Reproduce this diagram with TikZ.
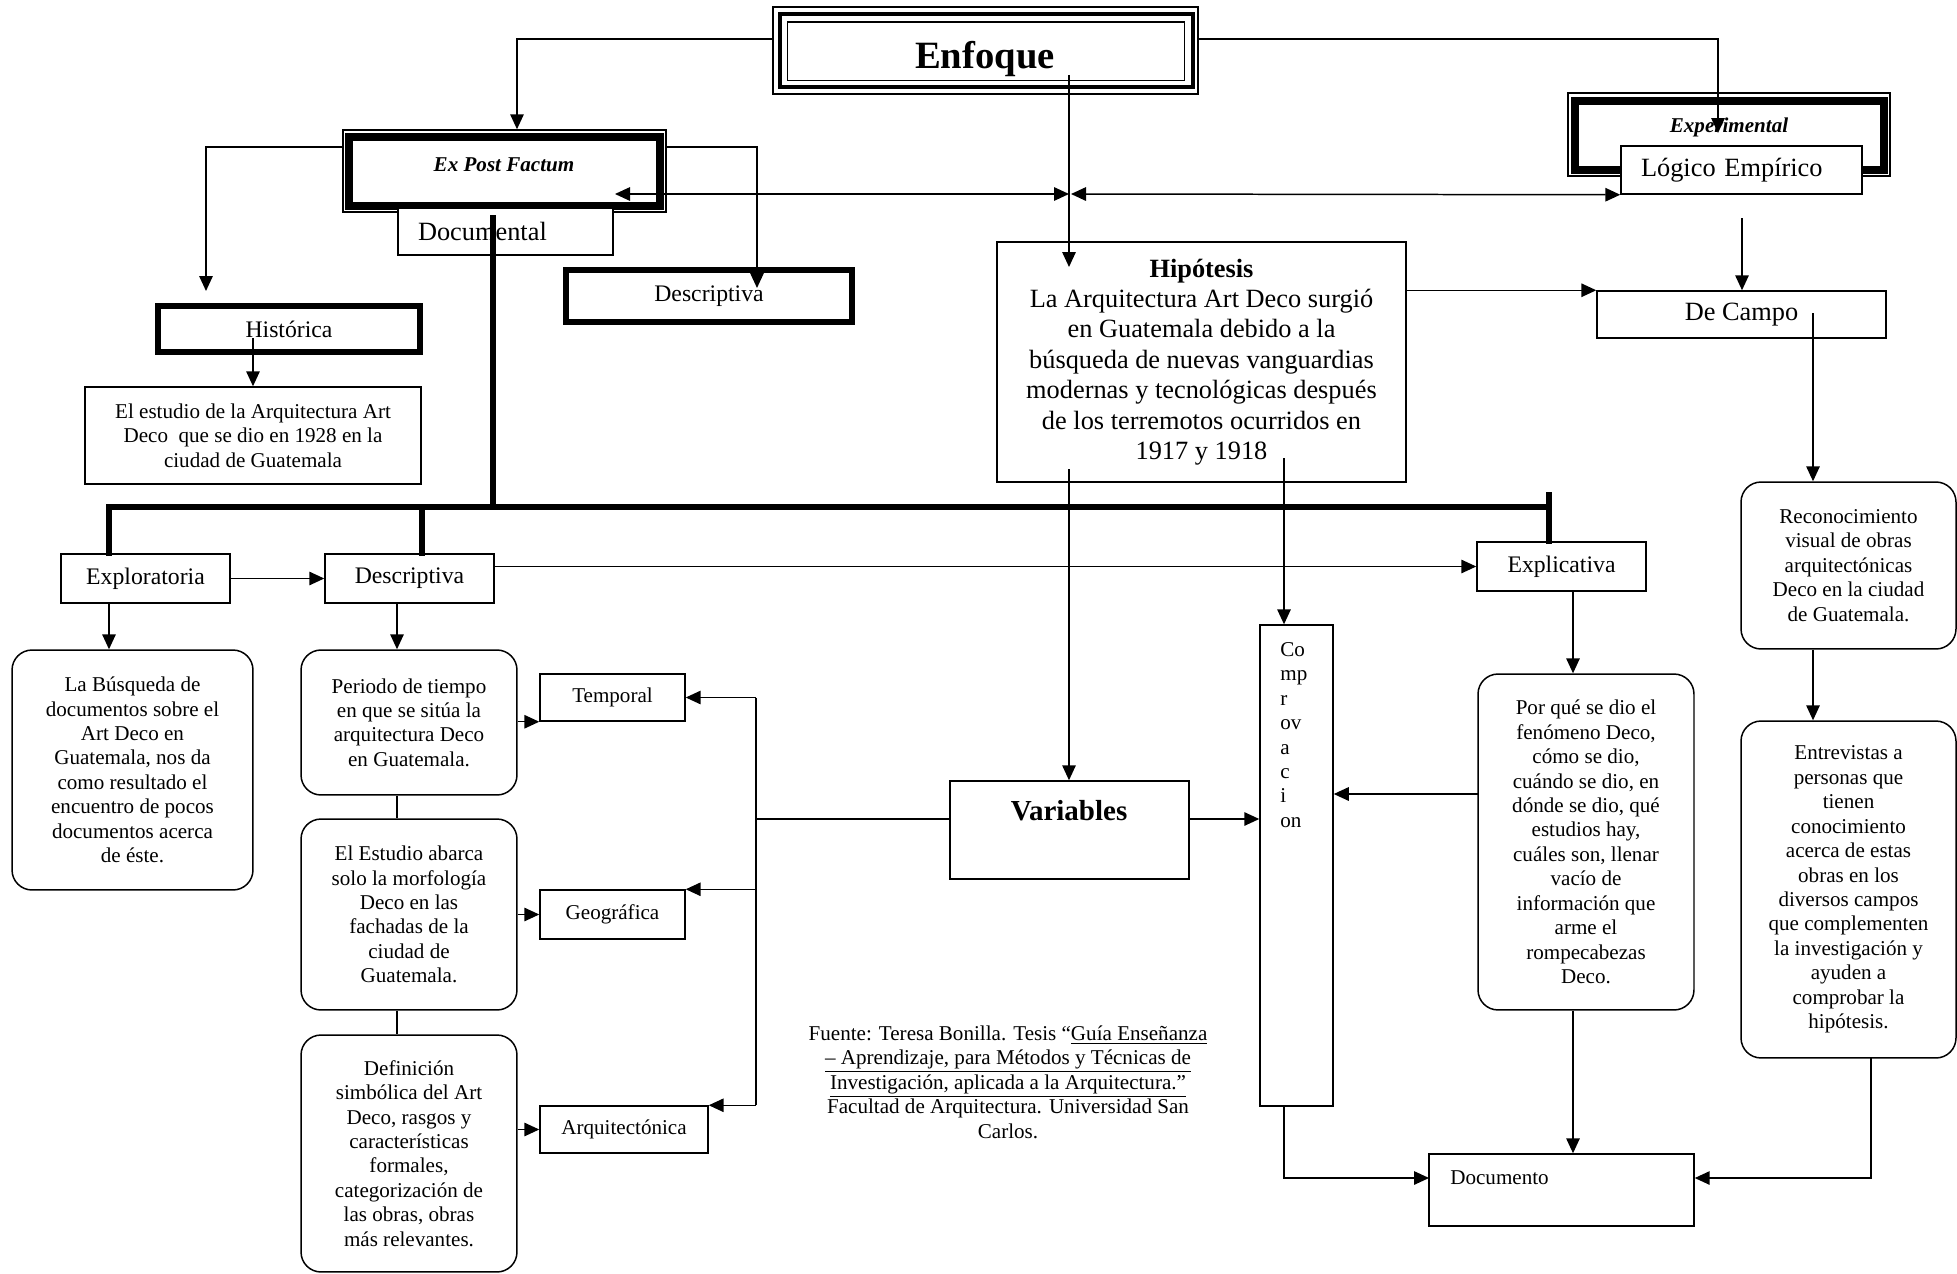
\documentclass[tikz,border=0pt]{standalone}
\usepackage{fontspec}
\setmainfont{Liberation Serif}
\usetikzlibrary{arrows.meta}

\newcommand{\smalltxt}{\fontsize{12}{13.9}\selectfont}
\newcommand{\midtxt}{\fontsize{13.5}{15.5}\selectfont}
\newcommand{\bigtxt}{\fontsize{15}{17.3}\selectfont}

\tikzstyle{box} = [rectangle,
inner sep=0pt,
align=center,
draw=black, line width=0.85pt,
fill=white, font=\smalltxt]
\tikzstyle{roundbox} = [box, rounded corners=0.4cm]
\tikzstyle{heavybox} = [box, line width=3pt]
\tikzstyle{arrow} = [line width=0.85pt,-{Triangle[length=0.3cm,width=0.27cm]}]
\tikzstyle{twoway} = [line width=0.85pt,{Triangle[length=0.3cm,width=0.27cm]}-{Triangle[length=0.3cm,width=0.27cm]}]
\tikzstyle{link} = [line width=0.85pt]
\tikzstyle{trunk} = [line width=3.2pt, line cap=rect]

\begin{document}
\begin{tikzpicture}[x=0.02cm, y=-0.02cm]
    \useasboundingbox[fill=white] (0,0) rectangle (1957,1274);

    % cabecera
    \node (enfoque) [box, minimum width=8.5cm, minimum height=1.74cm] at (985.5,50.5) {};
    \draw [line width=2.5pt] ([xshift=0.15cm,yshift=-0.16cm]enfoque.north west) rectangle ([xshift=-0.12cm,yshift=0.16cm]enfoque.south east);
    \draw [link] ([xshift=0.3cm,yshift=-0.31cm]enfoque.north west) rectangle ([xshift=-0.28cm,yshift=0.28cm]enfoque.south east);
    \node (enfoquetxt) [anchor=base, font=\bfseries\fontsize{22}{24}\selectfont] at (985,69) {Enfoque};

    \node (expost) [box, minimum width=6.46cm, minimum height=1.64cm] at (504.5,171) {};
    \draw [line width=4.5pt] ([xshift=0.14cm,yshift=-0.16cm]expost.north west) rectangle ([xshift=-0.14cm,yshift=0.14cm]expost.south east);
    \node (expostxt) [font=\bfseries\itshape\smalltxt] at (504,165) {Ex Post Factum};
    \node (documental) [box, font=\bigtxt, minimum width=4.3cm, minimum height=0.94cm, text width=3.5cm, align=left, inner xsep=0.4cm] at (505.5,231.5) {Documental};

    \node (experimental) [box, minimum width=6.44cm, minimum height=1.66cm] at (1729,134.5) {};
    \draw [line width=4.5pt] ([xshift=0.16cm,yshift=-0.18cm]experimental.north west) rectangle ([xshift=-0.14cm,yshift=0.14cm]experimental.south east);
    \node (experimentaltxt) [font=\bfseries\itshape\smalltxt] at (1729,127) {Experimental};
    \node (logico) [box, font=\bigtxt, minimum width=4.82cm, minimum height=0.96cm, text width=4.02cm, align=left, inner xsep=0.4cm] at (1741.5,170) {Lógico Empírico};

    \node (descriptivaA) [heavybox, font=\midtxt, minimum width=5.72cm, minimum height=1.04cm] at (709,296) {Descriptiva};
    \node (historica) [heavybox, font=\midtxt, minimum width=5.24cm, minimum height=0.92cm] at (289,329) {Histórica};
    \node (estudio) [box, minimum width=6.72cm, minimum height=1.94cm] at (253,435.5) {El estudio de la Arquitectura Art\\Deco~ que se dio en 1928 en la\\ciudad de Guatemala};

    \node (decampo) [box, font=\bigtxt, minimum width=5.78cm, minimum height=0.94cm] at (1741.5,314.5) {De Campo};
    \node (hipotesis) [box, font=\bigtxt, minimum width=8.18cm, minimum height=4.8cm] at (1201.5,362) {\textbf{Hipótesis}\\La Arquitectura Art Deco surgió\\en Guatemala debido a la\\búsqueda de nuevas vanguardias\\modernas y tecnológicas después\\de los terremotos ocurridos en\\1917 y 1918};

    % tipos de investigacion
    \node (exploratoria) [box, font=\midtxt, minimum width=3.38cm, minimum height=0.98cm] at (145.5,578.5) {Exploratoria};
    \node (descriptivaB) [box, font=\midtxt, minimum width=3.38cm, minimum height=0.98cm] at (409.5,578.5) {Descriptiva};
    \node (explicativa) [box, font=\midtxt, minimum width=3.38cm, minimum height=0.98cm] at (1561.5,566.5) {Explicativa};

    \node (busqueda) [roundbox, minimum width=4.82cm, minimum height=4.8cm] at (132.5,770) {La Búsqueda de\\documentos sobre el\\Art Deco en\\Guatemala, nos da\\como resultado el\\encuentro de pocos\\documentos acerca\\de éste.};
    \node (periodo) [roundbox, minimum width=4.32cm, minimum height=2.9cm] at (409,722.5) {Periodo de tiempo\\en que se sitúa la\\arquitectura Deco\\en Guatemala.};
    \node (abarca) [roundbox, minimum width=4.32cm, minimum height=3.82cm] at (409,914.5) {El Estudio abarca\\solo la morfología\\Deco en las\\fachadas de la\\ciudad de\\Guatemala.};
    \node (definicion) [roundbox, minimum width=4.32cm, minimum height=4.74cm] at (409,1153.5) {Definición\\simbólica del Art\\Deco, rasgos y\\características\\formales,\\categorización de\\las obras, obras\\más relevantes.};

    \node (temporal) [box, minimum width=2.9cm, minimum height=0.94cm] at (612.5,697.5) {Temporal};
    \node (geografica) [box, minimum width=2.9cm, minimum height=0.98cm] at (612.5,914.5) {Geográfica};
    \node (arquitectonica) [box, minimum width=3.36cm, minimum height=0.94cm] at (624,1129.5) {Arquitectónica};

    \node (variables) [box, minimum width=4.78cm, minimum height=1.96cm] at (1069.5,830) {};
    \node (variablestxt) [font=\bfseries\fontsize{16.5}{19}\selectfont] at (1069,811) {Variables};
    \node (comprov) [box, minimum width=1.46cm, minimum height=9.62cm] at (1296.5,865.5) {};
    \node (comprovtxt) [anchor=north west, align=left, font=\smalltxt, inner sep=0pt] at (1280,642) {Co\\mp\\r\\ov\\a\\c\\i\\on};

    \node (porque) [roundbox, minimum width=4.32cm, minimum height=6.72cm] at (1586,842) {Por qué se dio el\\fenómeno Deco,\\cómo se dio,\\cuándo se dio, en\\dónde se dio, qué\\estudios hay,\\cuáles son, llenar\\vacío de\\información que\\arme el\\rompecabezas\\Deco.};
    \node (reconoc) [roundbox, minimum width=4.3cm, minimum height=3.34cm] at (1848.5,565.5) {Reconocimiento\\visual de obras\\arquitectónicas\\Deco en la ciudad\\de Guatemala.};
    \node (entrevistas) [roundbox, minimum width=4.3cm, minimum height=6.74cm] at (1848.5,889.5) {Entrevistas a\\personas que\\tienen\\conocimiento\\acerca de estas\\obras en los\\diversos campos\\que complementen\\la investigación y\\ayuden a\\comprobar la\\hipótesis.};

    \node (documento) [box, minimum width=5.3cm, minimum height=1.44cm] at (1561.5,1190) {};
    \node (documentotxt) [anchor=west, font=\smalltxt, inner sep=0pt] at (1450,1178) {Documento};

    \node (fuente) [align=center, font=\smalltxt] at (1008,1082) {Fuente: Teresa Bonilla. Tesis “\underline{Guía Enseñanza}\\\underline{– Aprendizaje, para Métodos y Técnicas de}\\\underline{Investigación, aplicada a la Arquitectura.”}\\Facultad de Arquitectura. Universidad San\\Carlos.};

    % conectores de la cabecera
    \coordinate (enfin) at (1069,75);
    \coordinate (hipin) at (1069,267);
    \coordinate (expin) at (1718,133);
    \coordinate (expostin) at (615,194);
    \coordinate (midL) at (1069,194);
    \coordinate (midR) at (1071,194);
    \coordinate (histin) at (206,291);
    \coordinate (descin) at (757,288);

    \draw [arrow] ([yshift=0.23cm]enfoque.west) -| ([xshift=0.25cm]expost.north);
    \draw [arrow] ([yshift=0.23cm]enfoque.east) -| (expin);
    \draw [arrow] (enfin) -- (hipin);
    \draw [twoway] (expostin) -- (midL);
    \draw [twoway] (midR) -- (logico.south west);
    \draw [arrow] ([yshift=0.48cm]expost.west) -| (histin);
    \draw [arrow] ([yshift=0.48cm]expost.east) -| (descin);

    % tronco documental
    \coordinate (docstem) at (493,218);
    \coordinate (barL) at (109,507);
    \coordinate (barM) at (422,507);
    \coordinate (barR) at (1549,507);
    \draw [trunk] (docstem) -- (docstem |- barL);
    \draw [trunk] (barL |- exploratoria.north) -- (barL) -- (barR);
    \draw [trunk] (barM) -- (barM |- descriptivaB.north);
    \draw [trunk] ([yshift=0.24cm]barR) -- (barR |- explicativa.north);

    \coordinate (histout) at (253,338);
    \draw [arrow] (histout) -- (estudio.north);
    \draw [arrow] (exploratoria) -- (descriptivaB);
    \draw [arrow] (descriptivaB.east |- explicativa.west) -- (explicativa.west);
    \draw [arrow] (barL |- exploratoria.south) -- (barL |- busqueda.north);

    \coordinate (colB) at (397,603);
    \draw [arrow] (colB) -- (colB |- periodo.north);
    \draw [link] (colB |- periodo.south) -- (colB |- abarca.north);
    \draw [link] (colB |- abarca.south) -- (colB |- definicion.north);
    \draw [arrow] (periodo.east |- temporal.south) -- (temporal.south west);
    \draw [arrow] (abarca.east) -- (geografica.west);
    \draw [arrow] (definicion.east |- arquitectonica.west) -- (arquitectonica.west);

    % variables
    \coordinate (bus) at (756,819);
    \draw [link] (variables.west |- bus) -- (bus);
    \draw [link] (bus |- temporal.east) -- (bus |- arquitectonica.north);
    \draw [arrow] (bus |- temporal.east) -- (temporal.east);
    \draw [arrow] (bus |- geografica.north) -- (geografica.north east);
    \draw [arrow] (bus |- arquitectonica.north) -- (arquitectonica.north east);
    \draw [arrow] (variables.east |- bus) -- (comprov.west |- bus);

    \coordinate (pq) at (1478,794);
    \draw [arrow] (pq) -- (pq -| comprov.east);
    \coordinate (hipA) at (1069,469);
    \coordinate (hipB) at (1284,458);
    \draw [arrow] (hipA) -- (hipA |- variables.north);
    \draw [arrow] (hipB) -- (hipB |- comprov.north);

    % documento
    \coordinate (docrow) at (1429,1178);
    \draw [arrow] (hipB |- comprov.south) |- (docrow);
    \coordinate (colE) at (1573,591);
    \draw [arrow] (colE) -- (colE |- porque.north);
    \draw [arrow] (colE |- porque.south) -- (colE |- documento.north);
    \coordinate (colR) at (1871,1058);
    \draw [arrow] (colR) |- (docrow -| documento.east);

    % de campo
    \coordinate (colC) at (1813,313);
    \draw [arrow] (colC) -- (colC |- reconoc.north);
    \draw [arrow] (colC |- reconoc.south) -- (colC |- entrevistas.north);
    \coordinate (logout) at (1742,218);
    \draw [arrow] (logout) -- (logout |- decampo.north);
    \draw [arrow] (hipotesis.east |- decampo.north) -- (decampo.north west);

\end{tikzpicture}
\end{document}
